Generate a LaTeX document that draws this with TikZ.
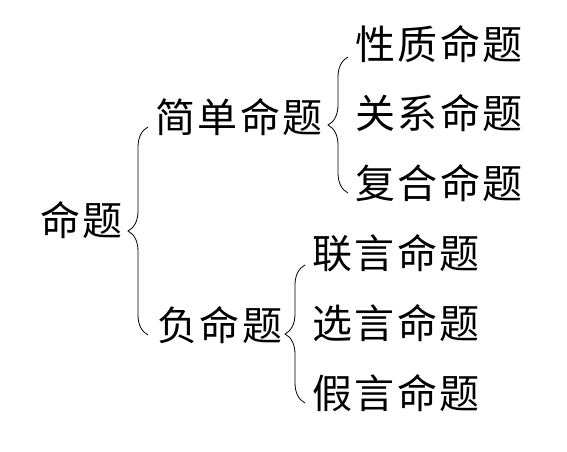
\documentclass[tikz,border=0pt]{standalone}
\usepackage{fontspec}
\setmainfont{Noto Sans CJK SC}
\usetikzlibrary{positioning, calc, decorations.pathreplacing}

\begin{document}
\begin{tikzpicture}[
      x=1pt, y=-1pt,
      term/.style={anchor=west, inner sep=0pt, font=\fontsize{40}{48}\selectfont\addfontfeatures{LetterSpace=6}},
      curly/.style={decorate, decoration={brace, amplitude=20pt}, line width=0.8pt}
  ]
    \useasboundingbox (0,0) rectangle (567,451);
    \node[term](root) at (40,220){命题};
    \node[term](simple) at (155,117){简单命题};
    \node[term](negative) at (157,325){负命题};
    \node[term](nature) at (355,44){性质命题};
    \node[term](relation) at (355,113){关系命题};
    \node[term](compound) at (355,183){复合命题};
    \node[term](conj) at (312,253){联言命题};
    \node[term](disj) at (312,323){选言命题};
    \node[term](cond) at (312,393){假言命题};
    \draw[curly]($(simple.west |- negative.west)+(-7,10)$) -- ($(simple.west)+(-7,10)$);
    \draw[curly]($(compound.west)+(-7,10)$) -- ($(nature.west)+(-7,13)$);
    \draw[curly]($(cond.west)+(-7,10)$) -- ($(conj.west)+(-7,12)$);
  \end{tikzpicture}
\end{document}
